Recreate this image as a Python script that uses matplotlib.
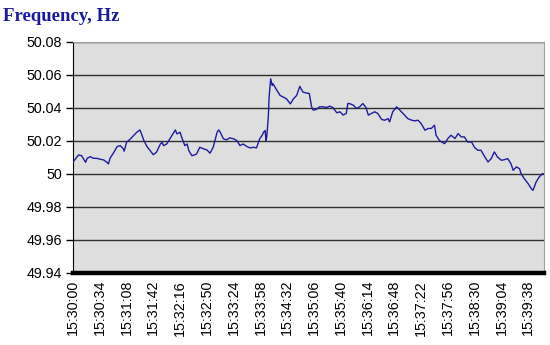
import matplotlib.pyplot as plt
from matplotlib.ticker import FuncFormatter

# seconds after 15:30:00 and frequency
t_sec = [0, 3, 7, 11, 16, 18, 22, 26, 30, 35, 39, 43, 45, 47, 52, 56, 60, 64, 65, 68,
         73, 77, 81, 85, 87, 90, 94, 98, 102, 106, 111, 113, 115, 119, 123, 128, 130, 132, 136, 138,
         142, 145, 147, 151, 155, 157, 161, 166, 170, 174, 178, 183, 185, 187, 191, 195, 199, 204, 208, 212,
         216, 221, 225, 229, 233, 237, 240, 242, 244, 245, 246, 248, 249, 251, 253, 254, 259, 263, 267, 271,
         276, 280, 284, 288, 292, 297, 300, 303, 305, 309, 313, 318, 322, 326, 330, 335, 339, 343, 347, 349,
         351, 356, 360, 364, 368, 372, 375, 379, 383, 387, 392, 396, 400, 402, 406, 411, 413, 417, 421, 425,
         430, 434, 438, 442, 447, 451, 455, 459, 461, 465, 468, 472, 476, 480, 485, 489, 493, 497, 501, 506,
         510, 514, 518, 523, 527, 531, 535, 539, 544, 548, 552, 556, 559, 563, 567, 569, 573, 578, 582, 584,
         586, 588, 592, 596, 598]
freq = [50.0071, 50.0091, 50.0115, 50.0111, 50.0071, 50.0095, 50.0105, 50.0095, 50.0095, 50.0089,
        50.0085, 50.0071, 50.0061, 50.0095, 50.0132, 50.0166, 50.0172, 50.0152, 50.0138, 50.0192,
        50.0213, 50.0233, 50.0253, 50.0267, 50.0243, 50.0203, 50.0166, 50.0142, 50.0117, 50.0132,
        50.0182, 50.0192, 50.0172, 50.0182, 50.0213, 50.0253, 50.0267, 50.0243, 50.0253, 50.0223,
        50.0172, 50.0182, 50.0142, 50.0111, 50.0117, 50.0122, 50.0162, 50.0152, 50.0146, 50.0126,
        50.0162, 50.0253, 50.0267, 50.0253, 50.0213, 50.0207, 50.0219, 50.0213, 50.0203, 50.0172,
        50.0182, 50.0166, 50.0158, 50.0162, 50.0158, 50.0213, 50.0233, 50.0253, 50.0263, 50.0203,
        50.0223, 50.0344, 50.0466, 50.0577, 50.0537, 50.0547, 50.0506, 50.0476, 50.0466, 50.0456,
        50.0425, 50.0456, 50.0476, 50.0531, 50.0496, 50.0490, 50.0488, 50.0407, 50.0387, 50.0391,
        50.0407, 50.0407, 50.0403, 50.0411, 50.0403, 50.0371, 50.0377, 50.0357, 50.0367, 50.0427,
        50.0427, 50.0417, 50.0397, 50.0407, 50.0427, 50.0403, 50.0357, 50.0367, 50.0377, 50.0367,
        50.0330, 50.0326, 50.0336, 50.0316, 50.0377, 50.0407, 50.0397, 50.0377, 50.0357, 50.0336,
        50.0326, 50.0322, 50.0326, 50.0306, 50.0265, 50.0276, 50.0276, 50.0296, 50.0235, 50.0205,
        50.0194, 50.0184, 50.0215, 50.0235, 50.0215, 50.0245, 50.0225, 50.0225, 50.0194, 50.0194,
        50.0160, 50.0144, 50.0144, 50.0103, 50.0073, 50.0093, 50.0134, 50.0103, 50.0083, 50.0087,
        50.0093, 50.0063, 50.0022, 50.0043, 50.0032, 50.0002, 49.9972, 49.9941, 49.9911, 49.9901,
        49.9925, 49.9951, 49.9982, 50.0002, 50.0000]

tick_labels = ['15:30:00', '15:30:34', '15:31:08', '15:31:42', '15:32:16', '15:32:50',
               '15:33:24', '15:33:58', '15:34:32', '15:35:06', '15:35:40', '15:36:14',
               '15:36:48', '15:37:22', '15:37:56', '15:38:30', '15:39:04', '15:39:38']
y_ticks = [49.94, 49.96, 49.98, 50.00, 50.02, 50.04, 50.06, 50.08]

fig = plt.figure(figsize=(5.5, 3.45), dpi=100)
ax = fig.add_axes([0.1327, 0.2087, 0.8563, 0.6696])
ax.set_facecolor('#dedede')

ax.plot(t_sec, freq, color='#1c1c9c', lw=1, zorder=3)

ax.set_xlim(0, 598)
ax.set_ylim(49.94, 50.08)
ax.set_yticks(y_ticks)
ax.yaxis.set_major_formatter(FuncFormatter(lambda v, p: f'{v:.2f}'.rstrip('0').rstrip('.')))
ax.set_xticks([i * 34 for i in range(len(tick_labels))])
ax.set_xticklabels(tick_labels, rotation=90)

ax.grid(axis='y', color='#303030', lw=1, zorder=1)
ax.tick_params(axis='y', length=5, width=1, labelsize=10.3, pad=3)
ax.tick_params(axis='x', length=0, labelsize=10.3, pad=5)
for lab in ax.get_xticklabels() + ax.get_yticklabels():
    lab.set_fontfamily('Liberation Sans')

ax.spines['bottom'].set_linewidth(3.2)
ax.spines['bottom'].set_color('black')
ax.spines['left'].set_color('black')
ax.spines['top'].set_color('#a0a0a0')
ax.spines['right'].set_color('#a0a0a0')

fig.text(0.006, 0.978, 'Frequency, Hz', color='#1a1aa0', fontsize=13.5,
         fontweight='bold', family='Liberation Serif', va='top', ha='left')

plt.savefig('out.png', dpi=100)
